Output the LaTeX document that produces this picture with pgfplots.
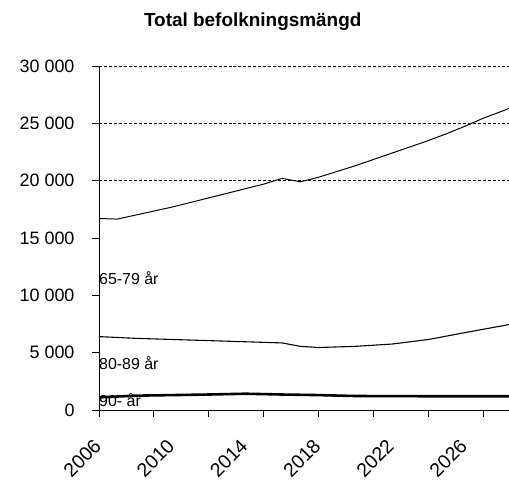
\documentclass[border=0pt]{standalone}
\usepackage{pgfplots}
\pgfplotsset{compat=1.18}
\usepackage{fontspec}
\setmainfont{Liberation Sans}
\begin{document}
\begin{tikzpicture}
\begin{axis}[
  at={(0,0)}, anchor=south west,
  scale only axis, width=410bp, height=344bp,
  xmin=2006, xmax=2028.4, ymin=0, ymax=30000,
  axis x line=bottom, axis y line=left,
  axis line style={-, line width=1pt},
  clip=true,
  scaled ticks=false,
  ytick={0,5000,...,30000},
  yticklabel style={font=\fontsize{18}{20}\selectfont, xshift=-14bp},
  /pgf/number format/assume math mode=true,
  /pgf/number format/1000 sep={\ },
  xtick={2006,2009,...,2027},
  xticklabels={},
  extra y ticks={20000,25000,30000},
  extra y tick labels={},
  extra y tick style={grid=major, major grid style={densely dashed, line width=0.7pt, black}},
  tick style={black, line width=0.9pt},
  major tick length=7bp,
  tick align=outside,
  title={\textbf{Total befolkningsmängd}},
  title style={font=\fontsize{19}{21}\selectfont, at={(0.375,1)}, yshift=26bp},
]
\addplot[black, line width=1pt] coordinates {
(2006,16700) (2007,16650) (2008,17000) (2009,17350) (2010,17700) (2011,18100)
(2012,18500) (2013,18900) (2014,19300) (2015,19700) (2016,20200) (2017,19900)
(2018,20300) (2019,20800) (2020,21300) (2021,21850) (2022,22400) (2023,22950)
(2024,23500) (2025,24100) (2026,24750) (2027,25450) (2028,26050) (2028.4,26300)};
\addplot[black, line width=1.1pt] coordinates {
(2006,6400) (2008,6250) (2010,6150) (2012,6050) (2014,5950) (2016,5850)
(2017,5550) (2018,5450) (2020,5550) (2022,5750) (2024,6150) (2026,6750) (2028.4,7450)};
\addplot[black, line width=2.6pt] coordinates {
(2006,1100) (2008,1250) (2010,1300) (2012,1350) (2014,1420) (2016,1350)
(2018,1300) (2020,1220) (2024,1200) (2028.4,1200)};
\node[anchor=west, font=\fontsize{16}{18}\selectfont, inner sep=0pt] at (axis cs:2006,11500) {65-79 år};
\node[anchor=west, font=\fontsize{16}{18}\selectfont, inner sep=0pt] at (axis cs:2006,4100) {80-89 år};
\node[anchor=west, font=\fontsize{16}{18}\selectfont, inner sep=0pt] at (axis cs:2006,900) {90- år};
\end{axis}
\begin{axis}[
  at={(0,0)}, anchor=south west,
  scale only axis, width=410bp, height=344bp,
  xmin=2006, xmax=2028.4, ymin=0, ymax=30000,
  axis x line=bottom, axis y line=none,
  x axis line style={draw=none},
  xtick={2006,2010,2014,2018,2022,2026},
  xtick style={draw=none},
  major tick length=0pt,
  tick align=outside,
  /pgf/number format/assume math mode=true,
  xticklabel style={/pgf/number format/1000 sep={}, rotate=45, anchor=north east, font=\fontsize{19.5}{21}\selectfont, inner sep=0pt, xshift=-24bp, yshift=-15bp},
]
\addplot[draw=none] coordinates {(2006,0) (2028,0)};
\end{axis}
\pgfresetboundingbox
\path (-99bp,-70bp) rectangle (410bp,410bp);
\end{tikzpicture}
\end{document}
